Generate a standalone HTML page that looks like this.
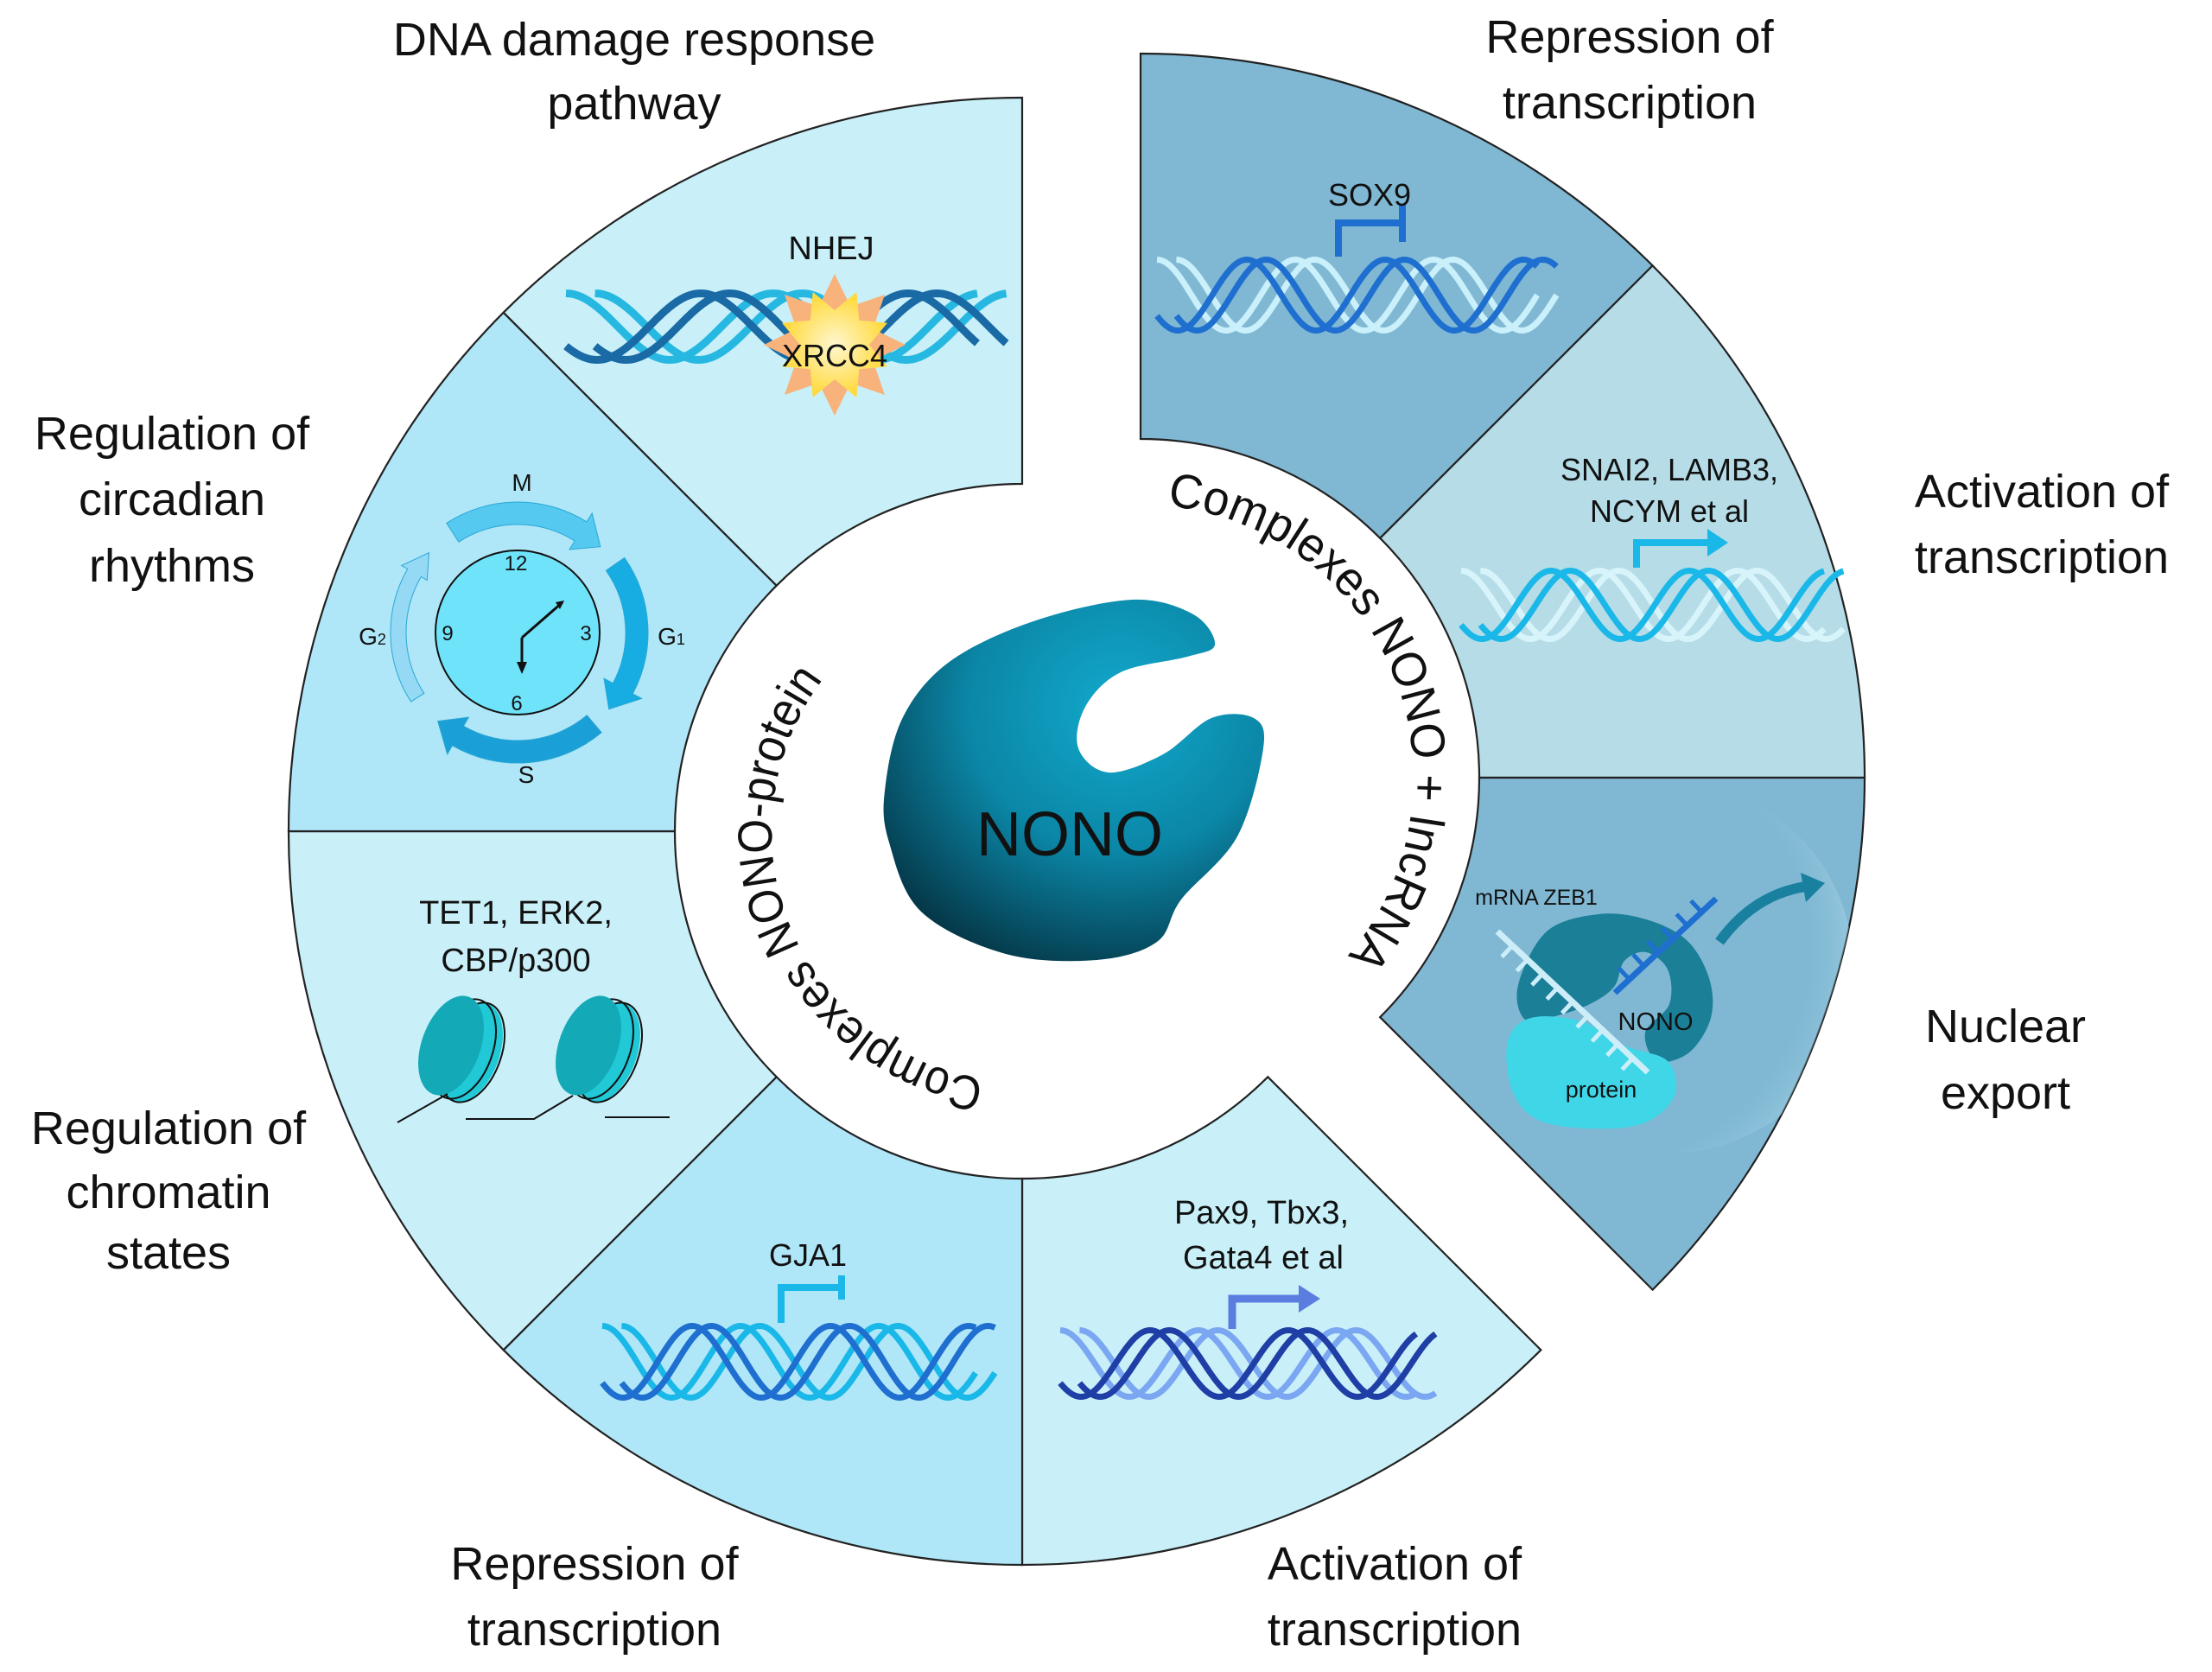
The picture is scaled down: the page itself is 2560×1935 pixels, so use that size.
<!DOCTYPE html>
<html><head><meta charset="utf-8"><style>
html,body{margin:0;padding:0;background:#fff;}
svg{display:block;}
text{font-family:"Liberation Sans",sans-serif;fill:#111;}
.big{font-size:54px;text-anchor:middle;}
.mid{font-size:38px;text-anchor:middle;}
</style></head><body>
<svg id="s" xmlns="http://www.w3.org/2000/svg" width="2560" height="1935" viewBox="0 0 2560 1935">
<defs>
<radialGradient id="nono" cx="0.62" cy="0.3" r="0.8">
<stop offset="0" stop-color="#12a9cc"/><stop offset="0.5" stop-color="#0b86a6"/><stop offset="1" stop-color="#04303f"/>
</radialGradient>
<radialGradient id="fade" cx="0.3" cy="0.45" r="0.75">
<stop offset="0" stop-color="#80b8d3" stop-opacity="0"/><stop offset="0.75" stop-color="#80b8d3" stop-opacity="0"/><stop offset="0.93" stop-color="#a6d4e6" stop-opacity="0.6"/><stop offset="1" stop-color="#80b8d3" stop-opacity="0"/>
</radialGradient>
<radialGradient id="yel" cx="0.5" cy="0.5" r="0.5">
<stop offset="0" stop-color="#fff7d0"/><stop offset="1" stop-color="#ffd93a"/>
</radialGradient>
<path id="arcL" d="M 1139.0 1248.7 A 290 290 0 0 1 950.0 789.6"/>
<path id="arcR" d="M 1350.6 585.5 A 316 316 0 0 1 1555.0 1111.0"/>
</defs>
<g id="shapes"></g>
<g id="labels">
<text class="big" x="734" y="64">DNA damage response</text>
<text class="big" x="734" y="138">pathway</text>
<text class="big" x="199" y="520">Regulation of</text>
<text class="big" x="199" y="596">circadian</text>
<text class="big" x="199" y="673">rhythms</text>
<text class="big" x="195" y="1324">Regulation of</text>
<text class="big" x="195" y="1398">chromatin</text>
<text class="big" x="195" y="1468">states</text>
<text class="big" x="688" y="1828">Repression of</text>
<text class="big" x="688" y="1904">transcription</text>
<text class="big" x="1614" y="1828">Activation of</text>
<text class="big" x="1614" y="1904">transcription</text>
<text class="big" x="1886" y="61">Repression of</text>
<text class="big" x="1886" y="137">transcription</text>
<text class="big" x="2363" y="587">Activation of</text>
<text class="big" x="2363" y="663">transcription</text>
<text class="big" x="2321" y="1206">Nuclear</text>
<text class="big" x="2321" y="1283">export</text>

<text class="mid" x="962" y="300">NHEJ</text>
<text class="mid" x="966" y="424" style="font-size:36px">XRCC4</text>
<text class="mid" x="1585" y="238" style="font-size:36px">SOX9</text>
<text class="mid" x="1932" y="556" style="font-size:36px">SNAI2, LAMB3,</text>
<text class="mid" x="1932" y="604" style="font-size:36px">NCYM et al</text>
<text class="mid" x="597" y="1069">TET1, ERK2,</text>
<text class="mid" x="597" y="1124">CBP/p300</text>
<text class="mid" x="935" y="1465" style="font-size:36px">GJA1</text>
<text class="mid" x="1460" y="1416">Pax9, Tbx3,</text>
<text class="mid" x="1462" y="1468">Gata4 et al</text>

<text x="604" y="568" style="font-size:28px;text-anchor:middle">M</text>
<text x="777" y="746" style="font-size:28px;text-anchor:middle">G<tspan style="font-size:18px">1</tspan></text>
<text x="609" y="906" style="font-size:28px;text-anchor:middle">S</text>
<text x="431" y="746" style="font-size:28px;text-anchor:middle">G<tspan style="font-size:18px">2</tspan></text>
<text x="597" y="660" style="font-size:24px;text-anchor:middle">12</text>
<text x="678" y="741" style="font-size:24px;text-anchor:middle">3</text>
<text x="598" y="822" style="font-size:24px;text-anchor:middle">6</text>
<text x="518" y="741" style="font-size:24px;text-anchor:middle">9</text>

<text x="1778" y="1047" style="font-size:25px;text-anchor:middle">mRNA ZEB1</text>
<text x="1916" y="1192" style="font-size:29px;text-anchor:middle">NONO</text>
<text x="1853" y="1270" style="font-size:27px;text-anchor:middle">protein</text>

<text x="1238" y="990" style="font-size:72px;text-anchor:middle">NONO</text>

<text style="font-size:56px"><textPath href="#arcL" textLength="600" lengthAdjust="spacingAndGlyphs">Complexes NONO-protein</textPath></text>
<text style="font-size:56px"><textPath href="#arcR" textLength="690" lengthAdjust="spacingAndGlyphs">Complexes NONO + lncRNA</textPath></text>
</g>
</svg>
<script>
const NS="http://www.w3.org/2000/svg";
const S=document.getElementById('s');
const g=document.getElementById('shapes');
function el(tag,a,p){const e=document.createElementNS(NS,tag);for(const k in a)e.setAttribute(k,a[k]);(p||g).appendChild(e);return e;}
function pt(cx,cy,r,a){a=a*Math.PI/180;return [(cx+r*Math.cos(a)).toFixed(1),(cy+r*Math.sin(a)).toFixed(1)];}
function sector(cx,cy,r1,r2,a1,a2){const p1=pt(cx,cy,r2,a1),p2=pt(cx,cy,r2,a2),p3=pt(cx,cy,r1,a2),p4=pt(cx,cy,r1,a1);
 return `M${p1}A${r2},${r2} 0 0 1 ${p2}L${p3}A${r1},${r1} 0 0 0 ${p4}Z`;}
function smooth(pts){const n=pts.length;let d=`M${pts[0][0]},${pts[0][1]}`;
 for(let i=0;i<n;i++){const p0=pts[(i-1+n)%n],p1=pts[i],p2=pts[(i+1)%n],p3=pts[(i+2)%n];
 const c1=[p1[0]+(p2[0]-p0[0])/6,p1[1]+(p2[1]-p0[1])/6],c2=[p2[0]-(p3[0]-p1[0])/6,p2[1]-(p3[1]-p1[1])/6];
 d+=`C${c1[0].toFixed(1)},${c1[1].toFixed(1)} ${c2[0].toFixed(1)},${c2[1].toFixed(1)} ${p2[0]},${p2[1]}`;}return d+'Z';}
function sine(x0,x1,yc,A,P,ph){let d='';for(let x=x0;x<=x1+0.01;x+=2){const y=yc-A*Math.cos(2*Math.PI*(x-x0)/P+ph);d+=(x==x0?'M':'L')+x.toFixed(1)+','+y.toFixed(1);}return d;}
function helix(x0,x1,y0,y1,P,c1,c2,w){w=w||7;const yc=(y0+y1)/2,A=(y1-y0)/2-w/2;const o=P*0.14;
 for(const [c,ph] of [[c1,0],[c2,Math.PI*0.7]]){for(const off of [0,o]){
 el('path',{d:sine(x0+off,x1-o+off,yc,A,P,ph),fill:'none',stroke:c,'stroke-width':w});}}}
const L=[1183,962,402,849], R=[1320,900,392,838];
const segL=[[45,90,'#c9f0f8'],[90,135,'#b0e7f8'],[135,180,'#c9f0f8'],[180,225,'#b0e7f8'],[225,270,'#c9f0f8']];
const segR=[[-90,-45,'#80b8d3'],[-45,0,'#b5dce7'],[0,45,'#80b8d3']];
for(const s of segL)el('path',{d:sector(L[0],L[1],L[2],L[3],s[0],s[1]),fill:s[2],stroke:'#222','stroke-width':2.2});
for(const s of segR)el('path',{d:sector(R[0],R[1],R[2],R[3],s[0],s[1]),fill:s[2],stroke:'#222','stroke-width':2.2});
const cp=el('clipPath',{id:'nc'},S.querySelector('defs'));el('path',{d:sector(R[0],R[1],R[2],R[3],0,45)},cp);
const gn=el('g',{'clip-path':'url(#nc)'});
el('circle',{cx:1930,cy:1120,r:215,fill:'url(#fade)'},gn);
const blob=[[1024,915],[1045,830],[1100,765],[1199,718],[1311,694],[1381,711],[1406,746],[1374,760],[1297,778],[1256,818],[1248,866],[1283,894],[1346,873],[1402,831],[1451,831],[1462,866],[1432,968],[1367,1041],[1339,1090],[1269,1111],[1164,1104],[1066,1055],[1029,975]];
el('path',{d:smooth(blob),fill:'url(#nono)'});
helix(655,1165,335,421,240,'#27b8e2','#1a6aa6',9);
function star(cx,cy,n,ro,ri,rot,fill){let d='';for(let i=0;i<2*n;i++){const r=i%2?ri:ro;const p=pt(cx,cy,r,rot+i*180/n);d+=(i?'L':'M')+p;}el('path',{d:d+'Z',fill:fill});}
star(966,399,8,82,48,-90,'#f8b27c');star(966,399,8,66,40,-67.5,'url(#yel)');
helix(1339,1803,297,386,160,'#c9f0fb','#1f6fd0',7);
el('path',{d:'M1549,297V258H1623',fill:'none',stroke:'#1f6fd0','stroke-width':8});
el('path',{d:'M1623,236V280',fill:'none',stroke:'#1f6fd0','stroke-width':8});
helix(1691,2135,657,743,160,'#d8f4fb','#1ab8e8',7);
el('path',{d:'M1894,657V628H1978',fill:'none',stroke:'#1ab8e8','stroke-width':8});
el('path',{d:'M1976,612L2000,628L1976,644Z',fill:'#1ab8e8'});
helix(697,1153,1531,1621,160,'#1ab8e8','#1f6fd0',7);
el('path',{d:'M904,1531V1490H974',fill:'none',stroke:'#1ab8e8','stroke-width':8});
el('path',{d:'M974,1476V1504',fill:'none',stroke:'#1ab8e8','stroke-width':8});
helix(1227,1662,1536,1620,160,'#7ba7f2','#1f3ea6',7);
el('path',{d:'M1426,1538V1503H1505',fill:'none',stroke:'#5b7de0','stroke-width':9});
el('path',{d:'M1503,1487L1528,1503L1503,1519Z',fill:'#5b7de0'});
function nuc(cx,cy){
 el('ellipse',{cx:cx+22,cy:cy+8,rx:34,ry:60,transform:`rotate(20 ${cx+22} ${cy+8})`,fill:'#21c8d6'});
 el('ellipse',{cx:cx+14,cy:cy+4,rx:34,ry:60,transform:`rotate(20 ${cx+14} ${cy+4})`,fill:'none',stroke:'#111','stroke-width':2});
 el('ellipse',{cx:cx+24,cy:cy+8,rx:34,ry:60,transform:`rotate(20 ${cx+24} ${cy+8})`,fill:'none',stroke:'#111','stroke-width':2});
 el('ellipse',{cx:cx,cy:cy,rx:34,ry:60,transform:`rotate(20 ${cx} ${cy})`,fill:'#14a9b6'});
}
nuc(522,1210);nuc(681,1210);
el('path',{d:'M460,1299L518,1266M539,1295H618L663,1268M700,1293H775',fill:'none',stroke:'#111','stroke-width':2});
function arcArrow(cx,cy,r,a1,a2,w,col){const head=12;const ae=a2-head;
 const o1=pt(cx,cy,r+w/2,a1),o2=pt(cx,cy,r+w/2,ae),i2=pt(cx,cy,r-w/2,ae),i1=pt(cx,cy,r-w/2,a1);
 const h1=pt(cx,cy,r+w*0.95,ae),h2=pt(cx,cy,r-w*0.95,ae),tip=pt(cx,cy,r,a2);
 el('path',{d:`M${o1}A${r+w/2},${r+w/2} 0 0 1 ${o2}L${h1}L${tip}L${h2}L${i2}A${r-w/2},${r-w/2} 0 0 0 ${i1}Z`,fill:col,stroke:'#2aa7d6','stroke-width':1});}
arcArrow(599,732,138,-123,-46,26,'#55c9ef');
arcArrow(599,732,138,-35,40,26,'#17ade2');
arcArrow(599,732,138,50,132,26,'#1a9fd6');
arcArrow(599,732,138,147,222,18,'#95d9f5');
el('circle',{cx:599,cy:732,r:95,fill:'#6fe3fa',stroke:'#111','stroke-width':2});
el('path',{d:'M604,738L651,697M604,738V770',fill:'none',stroke:'#111','stroke-width':3});
el('path',{d:'M643,697L653,695L648,705Z',fill:'#111'});
el('path',{d:'M598,766L610,766L604,780Z',fill:'#111'});
el('path',{d:smooth([[1757,1140],[1790,1078],[1850,1058],[1905,1064],[1952,1088],[1978,1132],[1980,1178],[1955,1218],[1918,1228],[1904,1195],[1932,1162],[1930,1122],[1905,1102],[1880,1112],[1868,1142],[1840,1162],[1800,1176],[1765,1180]]),fill:'#1b7f98'});
el('path',{d:smooth([[1745,1205],[1772,1178],[1830,1182],[1880,1210],[1930,1228],[1938,1268],[1902,1300],[1840,1306],[1780,1296],[1750,1262]]),fill:'#3fd6e8'});
function strand(x0,y0,x1,y1,col,n,side){el('path',{d:`M${x0},${y0}L${x1},${y1}`,stroke:col,'stroke-width':7,fill:'none'});
 const dx=x1-x0,dy=y1-y0,l=Math.hypot(dx,dy),nx=-dy/l*side,ny=dx/l*side;let d='';
 for(let i=1;i<=n;i++){const t=i/(n+1),x=x0+dx*t,y=y0+dy*t;d+=`M${x.toFixed(1)},${y.toFixed(1)}l${(nx*18).toFixed(1)},${(ny*18).toFixed(1)}`;}
 el('path',{d:d,stroke:col,'stroke-width':5,fill:'none'});}
strand(1733,1078,1907,1241,'#cdeef8',9,1);
strand(1869,1149,1986,1040,'#1f6fd0',6,-1);
el('path',{d:'M1990,1090Q2030,1035 2090,1026',fill:'none',stroke:'#1a80a0','stroke-width':12});
el('path',{d:'M2084,1010L2112,1022L2090,1044Z',fill:'#1a80a0'});
</script>
</body></html>
